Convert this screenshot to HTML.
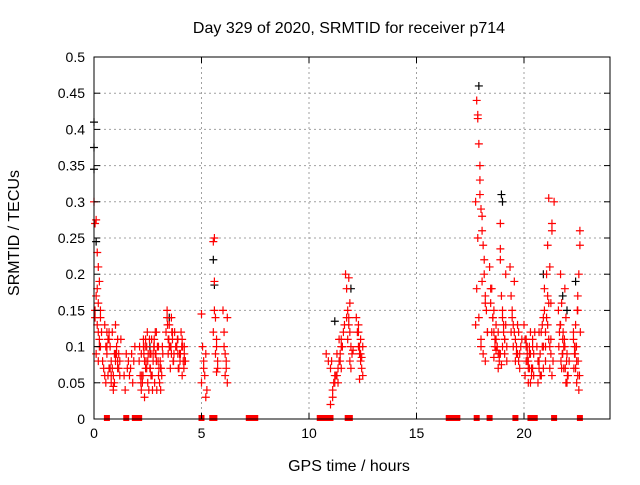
<!DOCTYPE html>
<html><head><meta charset="utf-8"><style>
body{margin:0;background:#fff;font-family:"Liberation Sans",sans-serif}
svg text{font-family:"Liberation Sans",sans-serif;font-size:14px;fill:#000}
svg text.big{font-size:16px}
</style></head><body>
<svg id="chart" width="640" height="480" xmlns="http://www.w3.org/2000/svg">
<rect width="640" height="480" fill="#fff"/>
<g id="grid"></g><g id="pts"></g><g id="axes"></g>
<text class="big" x="349" y="33" text-anchor="middle">Day 329 of 2020, SRMTID for receiver p714</text>
<text class="big" x="349" y="471" text-anchor="middle">GPS time / hours</text>
<text class="big" transform="translate(19,233) rotate(-90)" text-anchor="middle">SRMTID / TECUs</text>
</svg>
<script>
const xTicks=[0,5,10,15,20];
const yTicks=[0,0.05,0.1,0.15,0.2,0.25,0.3,0.35,0.4,0.45,0.5];
const yLabels=["0","0.05","0.1","0.15","0.2","0.25","0.3","0.35","0.4","0.45","0.5"];
const redT=[0,0.05,0.1,0.15,0.2,0.25,0.1,0.2,0.3,0.05,0.15,0.2,0.25,0.3,0.1,0.2,0.05,0.15,0.3,0.35,0.25,0.4,0.45,0.5,0.55,0.6,0.65,0.7,0.75,0.8,0.85,0.9,0.95,1.0,1.05,1.1,1.15,1.2,1.25,0.5,0.6,0.7,0.8,0.9,1.0,1.1,1.2,0.65,0.85,1.05,
1.4,1.5,1.6,1.7,1.8,1.9,1.45,1.65,1.85,1.55,1.75,
2.1,2.2,2.3,2.4,2.5,2.6,2.7,2.8,2.9,3.0,3.1,3.2,2.15,2.35,2.55,2.75,2.95,3.15,2.25,2.45,2.65,2.85,3.05,2.2,2.4,2.6,2.8,3.0,2.3,2.5,2.7,2.9,3.1,2.35,2.75,
3.35,3.4,3.45,3.5,3.55,3.6,3.65,3.7,3.4,3.5,3.6,3.45,3.55,3.65,3.75,
3.8,3.9,4.0,4.1,4.2,3.85,3.95,4.05,4.15,3.9,4.0,4.1,4.2,4.25,
5.0,5.05,5.1,5.15,5.2,5.0,5.1,5.2,5.25,
5.55,5.6,5.65,5.7,5.75,5.6,5.65,5.7,5.55,5.75,5.6,5.7,
6.0,6.05,6.1,6.15,6.2,6.05,6.15,6.1,6.2,
10.8,10.9,11.0,11.1,11.2,11.3,11.4,11.5,11.6,11.0,11.2,11.3,11.4,11.5,11.1,11.35,11.45,11.55,
11.7,11.75,11.8,11.85,11.9,11.95,12.0,11.8,11.9,11.85,11.75,11.95,12.05,
12.2,12.25,12.3,12.35,12.4,12.45,12.5,12.3,12.4,12.35,12.45,12.5,
17.75,17.8,17.85,17.9,17.95,18.0,18.05,18.1,18.15,18.2,18.25,18.3,17.85,17.95,18.05,18.15,17.8,17.9,18.0,18.1,18.2,17.75,17.85,17.95,18.0,18.05,18.3,18.2,
18.4,18.5,18.6,18.7,18.8,18.9,19.0,19.1,19.2,18.45,18.55,18.65,18.75,18.85,18.95,19.05,19.15,18.5,18.7,18.9,19.1,18.6,18.8,19.0,18.9,
19.35,19.4,19.45,19.5,19.55,19.6,19.65,19.7,19.75,19.8,19.9,19.45,19.55,19.65,19.75,19.85,
20.0,20.05,20.1,20.15,20.2,20.25,20.3,20.35,20.4,20.45,20.1,20.2,20.3,20.4,20.15,20.25,
20.6,20.7,20.8,20.9,21.0,21.1,21.2,21.3,21.4,20.65,20.75,20.85,20.95,21.05,21.15,21.25,21.35,20.7,20.9,21.1,21.3,21.0,21.2,21.15,21.25,20.8,
21.6,21.7,21.8,21.9,22.0,22.1,21.65,21.75,21.85,21.95,22.05,21.7,21.9,22.0,21.8,
22.3,22.35,22.4,22.45,22.5,22.55,22.6,22.35,22.45,22.55,22.4,22.5,22.6,22.3,22.5,
0.55,0.75,0.95,1.15,0.6,0.8,1.0,0.7,0.9,1.1,
2.12,2.28,2.42,2.58,2.72,2.88,3.02,3.18,2.18,2.32,2.48,2.62,2.78,2.92,3.08,2.22,2.38,2.52,2.68,2.82,2.98,3.12,2.45,2.65,2.85,
3.42,3.52,3.62,3.72,3.48,3.58,3.68,3.82,3.92,4.02,4.12,4.22,3.88,3.98,4.08,4.18,
11.05,11.25,11.45,11.15,11.35,11.55,11.65,11.5,12.3,12.4,12.35,11.85,11.9,
18.45,18.6,18.75,18.9,19.05,19.2,18.55,18.7,18.85,19.0,19.15,18.65,18.8,18.95,19.1,
19.4,19.5,19.6,19.7,19.8,20.05,20.15,20.25,20.35,20.45,20.1,20.2,20.3,20.4,20.5,
20.65,20.75,20.85,20.95,21.05,21.15,21.25,20.7,20.8,20.9,21.0,21.1,21.2,21.3,
21.62,21.72,21.82,21.92,22.02,21.68,21.78,21.88,21.98,21.75,21.85,21.95,
22.32,22.42,22.52,22.62,22.38,22.48,22.58,22.44];
const redV=[0.3,0.27,0.275,0.23,0.21,0.19,0.17,0.16,0.15,0.14,0.13,0.12,0.11,0.1,0.09,0.08,0.15,0.18,0.14,0.12,0.1,0.08,0.07,0.06,0.05,0.09,0.11,0.12,0.1,0.08,0.07,0.06,0.09,0.13,0.1,0.08,0.07,0.06,0.11,0.13,0.1,0.07,0.05,0.04,0.09,0.11,0.08,0.06,0.12,0.09,
0.06,0.09,0.08,0.07,0.05,0.1,0.04,0.06,0.08,0.07,0.09,
0.08,0.04,0.1,0.07,0.05,0.09,0.06,0.11,0.08,0.1,0.07,0.09,0.06,0.03,0.04,0.08,0.1,0.06,0.05,0.07,0.09,0.12,0.05,0.09,0.11,0.07,0.1,0.06,0.11,0.08,0.06,0.12,0.04,0.08,0.09,
0.12,0.14,0.11,0.13,0.1,0.09,0.12,0.08,0.15,0.1,0.14,0.09,0.07,0.11,0.12,
0.1,0.09,0.08,0.11,0.09,0.1,0.07,0.12,0.08,0.11,0.09,0.06,0.1,0.08,
0.145,0.1,0.08,0.06,0.09,0.05,0.07,0.03,0.04,
0.245,0.19,0.14,0.1,0.08,0.15,0.09,0.065,0.12,0.07,0.25,0.11,
0.15,0.12,0.09,0.07,0.14,0.1,0.08,0.06,0.05,
0.09,0.08,0.07,0.04,0.05,0.06,0.08,0.1,0.12,0.02,0.06,0.09,0.11,0.07,0.03,0.05,0.08,0.1,
0.2,0.18,0.15,0.13,0.12,0.1,0.09,0.11,0.08,0.195,0.14,0.07,0.095,
0.14,0.12,0.1,0.09,0.08,0.07,0.06,0.13,0.11,0.055,0.085,0.1,
0.3,0.44,0.42,0.38,0.33,0.29,0.26,0.24,0.2,0.17,0.15,0.12,0.415,0.35,0.28,0.22,0.18,0.14,0.11,0.09,0.16,0.13,0.25,0.31,0.1,0.19,0.12,0.08,
0.21,0.18,0.15,0.13,0.12,0.27,0.1,0.09,0.08,0.16,0.14,0.11,0.1,0.09,0.075,0.13,0.2,0.12,0.095,0.22,0.11,0.085,0.07,0.14,0.235,
0.21,0.17,0.15,0.13,0.12,0.11,0.1,0.09,0.08,0.07,0.11,0.14,0.19,0.09,0.12,0.1,
0.13,0.11,0.1,0.09,0.08,0.07,0.12,0.06,0.1,0.09,0.08,0.07,0.05,0.11,0.1,0.09,
0.1,0.08,0.06,0.07,0.12,0.17,0.21,0.26,0.3,0.05,0.09,0.13,0.18,0.2,0.16,0.11,0.08,0.12,0.14,0.24,0.27,0.1,0.07,0.305,0.16,0.06,
0.15,0.13,0.11,0.1,0.09,0.08,0.12,0.07,0.1,0.14,0.06,0.2,0.18,0.05,0.09,
0.12,0.09,0.07,0.05,0.15,0.2,0.26,0.1,0.08,0.04,0.13,0.06,0.24,0.11,0.17,
0.1,0.07,0.05,0.09,0.12,0.06,0.08,0.11,0.045,0.07,
0.1,0.06,0.08,0.11,0.04,0.09,0.07,0.1,0.05,0.09,0.12,0.07,0.1,0.04,0.08,0.06,0.1,0.09,0.11,0.05,0.08,0.07,0.1,0.06,0.09,
0.13,0.1,0.12,0.09,0.11,0.1,0.08,0.1,0.07,0.09,0.1,0.08,0.11,0.09,0.1,0.07,
0.08,0.06,0.09,0.05,0.07,0.1,0.13,0.11,0.12,0.09,0.1,0.14,0.16,
0.18,0.12,0.1,0.09,0.12,0.1,0.14,0.11,0.08,0.15,0.13,0.1,0.09,0.17,0.11,
0.12,0.1,0.08,0.13,0.09,0.06,0.08,0.1,0.07,0.06,0.11,0.05,0.09,0.07,0.12,
0.08,0.06,0.1,0.15,0.14,0.11,0.09,0.07,0.12,0.1,0.08,0.13,0.1,0.06,
0.1,0.08,0.12,0.07,0.06,0.13,0.09,0.11,0.08,0.16,0.07,0.05,
0.07,0.1,0.08,0.12,0.09,0.15,0.06,0.1];
const blackT=[0,0,0,0.1,5.55,5.6,11.2,17.9,18.95,19.0,21.8,22.0,22.4,11.95,3.5,2.6,20.9];
const blackV=[0.41,0.375,0.345,0.245,0.22,0.185,0.135,0.46,0.31,0.3,0.17,0.15,0.19,0.18,0.14,0.1,0.2];
const zeroT=[0.6,1.5,1.9,2.0,2.1,5.0,5.5,5.6,7.2,7.3,7.5,10.5,10.6,10.8,11.0,11.8,11.9,16.5,16.7,16.9,17.8,18.4,19.6,20.3,20.4,20.5,21.4,22.6];
const X0=94,X1=610,Y0=419,Y1=57,XMAX=24,YMAX=0.5;
const xs=t=>X0+(X1-X0)*t/XMAX, ys=v=>Y0-(Y0-Y1)*v/YMAX;
const NS="http://www.w3.org/2000/svg";
function mk(tag,attrs,parent){const e=document.createElementNS(NS,tag);for(const k in attrs)e.setAttribute(k,attrs[k]);parent.appendChild(e);return e;}
const grid=document.getElementById('grid'),axes=document.getElementById('axes'),pts=document.getElementById('pts');
xTicks.forEach(t=>{const x=xs(t);
 if(t>0){const g=mk('line',{x1:x,x2:x,y1:Y1,y2:Y0,stroke:'#a0a0a0','stroke-dasharray':'2,3'},grid);
 
 }
 mk('line',{x1:x,x2:x,y1:Y0,y2:Y0-6,stroke:'#000'},axes);mk('line',{x1:x,x2:x,y1:Y1,y2:Y1+6,stroke:'#000'},axes);
 const tx=mk('text',{x:x,y:Y0+19,'text-anchor':'middle'},axes);tx.textContent=t;
 
 });
yTicks.forEach((v,i)=>{const y=ys(v);
 if(v>0&&v<0.5){const g=mk('line',{x1:X0,x2:X1,y1:y,y2:y,stroke:'#a0a0a0','stroke-dasharray':'2,3'},grid);
 
 }
 mk('line',{x1:X0,x2:X0+6,y1:y,y2:y,stroke:'#000'},axes);mk('line',{x1:X1,x2:X1-6,y1:y,y2:y,stroke:'#000'},axes);
 const tx=mk('text',{x:X0-9,y:y+5,'text-anchor':'end'},axes);tx.textContent=yLabels[i];
 
 });
const frame=mk('rect',{x:X0,y:Y1,width:X1-X0,height:Y0-Y1,fill:'none',stroke:'#000'},axes);


function cross(t,v,c){const x=xs(t),y=ys(v);
 const p=mk('path',{d:`M${x-4},${y}h8M${x},${y-4}v8`,stroke:c,'stroke-width':1.2,fill:'none'},pts);
 
 }
blackT.forEach((t,i)=>cross(t,blackV[i],'#000'));
redT.forEach((t,i)=>cross(t,redV[i],'#f00'));
zeroT.forEach(t=>{const x=xs(t);const r=mk('rect',{x:x-3,y:Y0-4,width:6,height:6,fill:'#f00'},pts);
 
 });
</script>
</body></html>
